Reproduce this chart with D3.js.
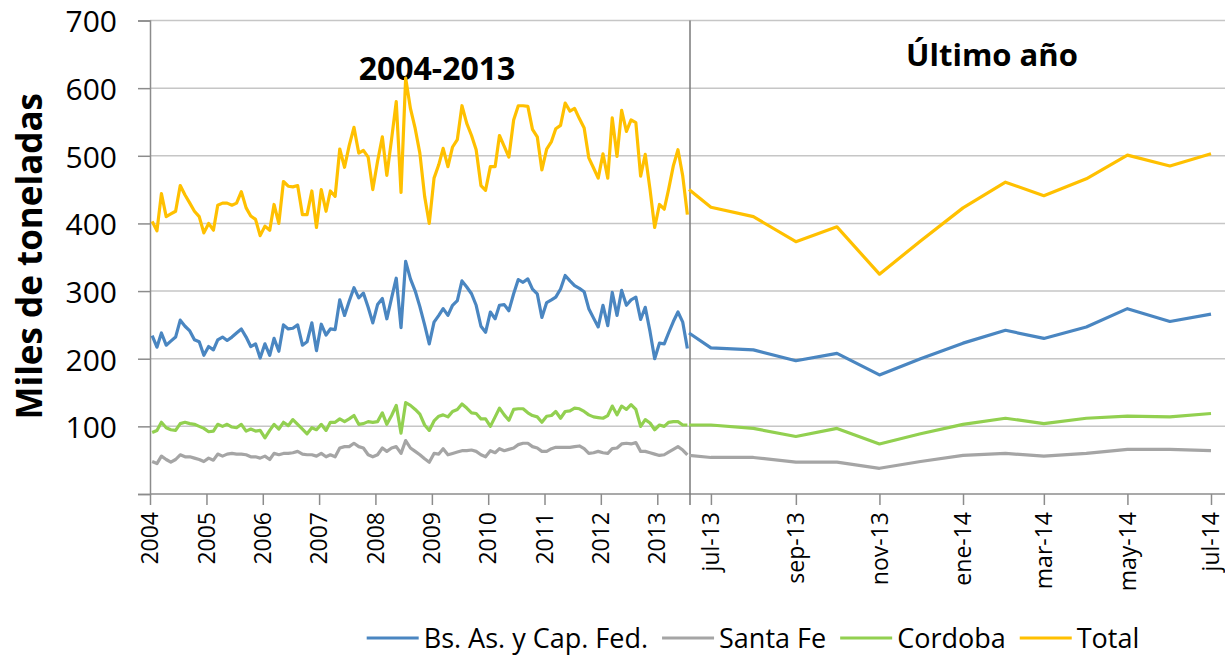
<!DOCTYPE html>
<html>
<head>
<meta charset="utf-8">
<script src="https://cdn.jsdelivr.net/npm/d3@7"></script>
<style>
body{margin:0;background:#fff}
text{font-family:"Open Sans",sans-serif;fill:#000}
</style>
</head>
<body>
<svg id="chart"></svg>
<script>
// monthly series, jan-2004 .. jul-2013
var bsas = [
  234,217,238,220,226,232,257,248,241,228,
  225,205,218,213,228,232,227,232,238,244,
  232,218,222,201,222,205,230,211,250,244,
  245,250,220,225,253,212,251,235,244,243,
  287,264,285,305,290,297,276,253,280,289,
  259,290,319,246,344,318,300,277,250,222,
  254,264,274,264,279,286,315,306,296,279,
  248,239,269,259,279,280,271,296,317,313,
  318,303,296,261,283,287,291,303,323,315,
  308,304,299,274,260,247,279,249,298,264,
  301,279,287,291,258,276,240,200,223,222,
  238,255,269,254,215]

var santafe = [
  48,45,56,51,47,51,58,55,55,53,
  51,48,53,50,59,56,59,60,59,59,
  58,55,55,53,56,51,60,58,60,60,
  61,63,59,58,58,56,60,55,58,55,
  68,70,70,75,70,68,58,55,58,68,
  63,68,70,60,79,68,63,58,52,47,
  60,59,67,58,60,62,64,64,65,63,
  58,55,64,61,67,64,66,68,73,75,
  75,70,68,63,63,67,69,69,69,69,
  70,71,67,60,61,63,61,60,67,68,
  74,75,74,76,63,63,61,59,57,58,
  62,66,70,65,58]

var cordoba = [
  91,94,106,98,95,94,104,106,104,103,
  100,97,92,93,103,100,103,99,98,103,
  93,96,93,94,83,94,103,96,106,101,
  110,103,96,89,98,95,103,94,106,106,
  111,107,111,116,103,104,107,106,107,120,
  103,116,131,90,135,131,125,118,102,94,
  108,115,117,114,122,125,133,127,120,119,
  111,111,100,114,127,117,109,125,126,126,
  120,116,114,106,115,116,122,112,122,123,
  127,126,122,117,114,113,112,116,130,117,
  130,125,132,125,100,110,105,95,102,100,
  106,107,107,102,102]

var total = [
  403,389,444,410,414,418,456,442,430,418,
  410,386,400,390,427,430,430,427,430,447,
  423,411,406,382,396,390,428,400,462,455,
  454,456,413,413,448,394,450,418,448,440,
  510,483,515,542,504,508,498,450,492,528,
  471,525,580,446,615,570,540,504,440,400,
  467,487,511,484,513,524,574,548,530,509,
  456,449,484,484,530,514,498,553,574,574,
  573,539,528,479,510,521,540,545,578,566,
  570,555,541,497,482,467,503,467,556,499,
  567,536,553,549,470,502,450,394,428,421,
  450,485,509,470,413]

// último año
var rightDates = ['2013-06-15','2013-07-01','2013-08-01','2013-09-01','2013-10-01','2013-11-01','2013-12-01',
  '2014-01-01','2014-02-01','2014-03-01','2014-04-01','2014-05-01','2014-06-01','2014-07-01']
var rightBsas    = [238,216,213,197,208,176,200,223,242,230,247,274,255,266]
var rightSantafe = [57,54,54,47,47,38,48,57,60,56,60,66,66,64]
var rightCordoba = [102,102,97,85,97,74,89,103,112,104,112,115,114,119]
var rightTotal   = [450,424,410,373,395,325,374,423,461,441,466,501,485,503]

var yTicks = [0,100,200,300,400,500,600,700]
var rightTicks = ['2013-07-01','2013-09-01','2013-11-01','2014-01-01','2014-03-01','2014-05-01','2014-07-01']
var names = ['Bs. As. y Cap. Fed.', 'Santa Fe', 'Cordoba', 'Total']
var colors = ['#4a86c1', '#a5a5a5', '#92d050', '#ffc000']

var W = 1225, H = 655
var svg = d3.select('#chart').attr('width', W).attr('height', H)
svg.append('rect').attr('width', W).attr('height', H).attr('fill', '#fff')

var parse = d3.timeParse('%Y-%m-%d')
var es = d3.timeFormatLocale({
  dateTime: '%x, %X', date: '%d/%m/%Y', time: '%H:%M:%S', periods: ['AM', 'PM'],
  days: ['domingo','lunes','martes','miércoles','jueves','viernes','sábado'],
  shortDays: ['dom','lun','mar','mié','jue','vie','sáb'],
  months: ['enero','febrero','marzo','abril','mayo','junio','julio','agosto','septiembre','octubre','noviembre','diciembre'],
  shortMonths: ['ene','feb','mar','abr','may','jun','jul','ago','sep','oct','nov','dic']
})

var x0 = 150, xMid = 690, yTop = 20.5, yBot = 494
var y = d3.scaleLinear().domain([0, 700]).range([yBot, yTop])
var xl = d3.scaleTime().domain([parse('2004-01-01'), parse('2013-08-01')]).range([x0, xMid])
var xr = d3.scaleTime().domain([parse(rightDates[0]), parse(rightDates[rightDates.length - 1])]).range([689, 1211])

var leftDates = d3.timeMonth.range(parse('2004-01-01'), parse('2013-08-01')).map(d => d3.timeDay.offset(d, 14))

// gridlines
svg.append('g').selectAll('line').data(yTicks.filter(d => d > 0)).join('line')
  .attr('x1', x0).attr('x2', W).attr('y1', d => y(d)).attr('y2', d => y(d))
  .attr('stroke', '#c6c6c6').attr('stroke-width', 1.5)

// y axis
var yAxis = svg.append('g').attr('transform', `translate(${x0},0)`)
  .call(d3.axisLeft(y).tickValues(yTicks).tickSize(12).tickPadding(21))
yAxis.select('.domain').attr('stroke', '#8c8c8c').attr('stroke-width', 1.5)
yAxis.selectAll('.tick line').attr('stroke', '#8c8c8c').attr('stroke-width', 1.5)
yAxis.selectAll('.tick text').style('font-size', '30px').style('font-family', '"Open Sans",sans-serif').attr('fill', '#000').attr('dy', '.38em')
yAxis.selectAll('.tick').filter(d => d == 0).select('text').remove()

svg.append('text').attr('transform', `translate(42,${(yTop + yBot) / 2 - 1}) rotate(-90)`)
  .attr('text-anchor', 'middle').style('font-size', '35px').style('font-weight', 'bold')
  .text('Miles de toneladas')

// x axes
svg.append('line').attr('x1', x0).attr('x2', W).attr('y1', yBot).attr('y2', yBot)
  .attr('stroke', '#8c8c8c').attr('stroke-width', 1.5)
svg.append('line').attr('x1', xMid).attr('x2', xMid).attr('y1', yTop).attr('y2', yBot + 11)
  .attr('stroke', '#7a7a7a').attr('stroke-width', 1.5)

function styleX(g){
  g.select('.domain').remove()
  g.selectAll('.tick line').attr('stroke', '#8c8c8c').attr('stroke-width', 1.5)
  g.selectAll('.tick text')
    .attr('transform', 'rotate(-90)').attr('x', -18).attr('y', 0).attr('dy', '.33em')
    .style('text-anchor', 'end').style('font-size', '23px').style('font-family', '"Open Sans",sans-serif').attr('fill', '#000')
}

svg.append('g').attr('transform', `translate(0,${yBot})`)
  .call(d3.axisBottom(xl).ticks(d3.timeYear.every(1)).tickSize(11).tickFormat(d3.timeFormat('%Y')))
  .call(styleX)

svg.append('g').attr('transform', `translate(0,${yBot})`)
  .call(d3.axisBottom(xr).tickValues(rightTicks.map(parse)).tickSize(11).tickFormat(es.format('%b-%y')))
  .call(styleX)

// titles
svg.append('text').attr('x', 437).attr('y', 80).attr('text-anchor', 'middle')
  .style('font-size', '32px').style('font-weight', 'bold').text('2004-2013')
svg.append('text').attr('x', 992).attr('y', 66).attr('text-anchor', 'middle')
  .style('font-size', '31px').style('font-weight', 'bold').text('Último año')

// lines
var lineL = d3.line().x((d, i) => xl(leftDates[i])).y(d => y(d))
var lineR = d3.line().x((d, i) => xr(parse(rightDates[i]))).y(d => y(d))

var leftSeries = [bsas, santafe, cordoba, total]
var rightSeries = [rightBsas, rightSantafe, rightCordoba, rightTotal]

svg.append('g').selectAll('path').data(leftSeries).join('path')
  .attr('d', lineL).attr('fill', 'none').attr('stroke', (d, i) => colors[i])
  .attr('stroke-width', 3.2).attr('stroke-linejoin', 'round')
svg.append('g').selectAll('path').data(rightSeries).join('path')
  .attr('d', lineR).attr('fill', 'none').attr('stroke', (d, i) => colors[i])
  .attr('stroke-width', 3.2).attr('stroke-linejoin', 'round')

// legend
var legend = svg.append('g').attr('transform', 'translate(0,638)')
var items = legend.selectAll('g').data(names).join('g')
items.append('line').attr('x1', 0).attr('x2', 52).attr('stroke', (d, i) => colors[i]).attr('stroke-width', 3.2)
items.append('text').attr('x', 57).attr('dy', '.36em').style('font-size', '27px').text(d => d)
var xpos = 0, widths = []
items.each(function(){ widths.push(this.getBBox().width) })
var totalW = d3.sum(widths) + 14 * (names.length - 1)
xpos = 753 - totalW / 2
items.attr('transform', (d, i) => {
  var t = `translate(${xpos},0)`
  xpos += widths[i] + 14
  return t
})
</script>
</body>
</html>
